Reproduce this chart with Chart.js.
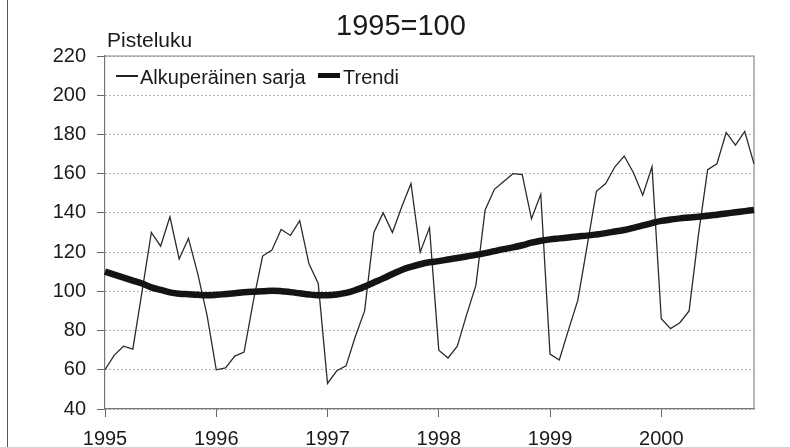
<!DOCTYPE html>
<html>
<head>
<meta charset="utf-8">
<script src="https://cdn.jsdelivr.net/npm/chart.js@4.4.0/dist/chart.umd.min.js"></script>
<style>
  body { margin: 0; background: #fff; }
  #wrap { position: relative; width: 790px; height: 447px; overflow: hidden;
          font-family: "Liberation Sans", Arial, sans-serif; color: #1a1a1a; }
  #c { position: absolute; left: 0; top: 0; }
  #frame { position: absolute; left: 7px; top: 0; height: 447px; border-left: 1.5px solid #555; }
  .txt { position: absolute; line-height: 1; white-space: nowrap; }
  #title { left: 336px; top: 11px; font-size: 29px; }
  #ylab { left: 107px; top: 29px; font-size: 21px; }
  .lg { top: 67px; font-size: 20px; }
  .sw { position: absolute; background: #222; }
</style>
</head>
<body>
<div id="wrap">
  <canvas id="c" width="790" height="447"></canvas>
  <div id="frame"></div>
  <div id="title" class="txt">1995=100</div>
  <div id="ylab" class="txt">Pisteluku</div>
  <div class="sw" style="left:116px; top:75px; width:22px; height:1.5px;"></div>
  <div class="txt lg" style="left:140px;">Alkuperäinen sarja</div>
  <div class="sw" style="left:318px; top:73px; width:22px; height:5px; background:#111;"></div>
  <div class="txt lg" style="left:343px;">Trendi</div>
</div>
<script>
// kuukausisarja 1/1995 - 11/2000
const years = ['1995', '1996', '1997', '1998', '1999', '2000'];
const monthCount = 71;

const original = [
  60, 67.5, 72, 70.5, 100, 130, 123, 138, 116.5, 127, 109, 88,
  60, 61, 67, 69, 95, 118, 121, 131.5, 128.5, 136, 114, 104,
  53, 59.5, 62, 77, 90, 130, 140, 130, 143, 155, 120, 132.5,
  70, 66, 72, 88, 103, 141.5, 152, 156, 160, 159.5, 137, 149.5,
  68, 65, 80.5, 95.5, 123, 151, 155, 163.5, 169, 160.5, 149, 163.5,
  86, 81, 84, 90, 128.5, 162, 165, 181, 174.5, 181.5, 165
];

const trend = [
  110, 108.5, 107, 105.5, 104, 102, 100.7, 99.5, 98.8, 98.5, 98.2, 98,
  98.2, 98.6, 99, 99.5, 99.8, 100, 100.3, 100.1, 99.6, 99, 98.4, 98,
  98, 98.4, 99.2, 100.6, 102.4, 104.5, 106.6, 108.8, 110.9, 112.5, 113.8, 114.8,
  115.4, 116.2, 117, 117.8, 118.6, 119.5, 120.5, 121.5, 122.4, 123.5, 124.8, 125.8,
  126.5, 127, 127.5, 128, 128.4, 129, 129.7, 130.5, 131.3, 132.4, 133.6, 134.8,
  135.9, 136.6, 137.2, 137.6, 138, 138.5, 139.1, 139.7, 140.3, 140.9, 141.5
];

const yTicks = [40, 60, 80, 100, 120, 140, 160, 180, 200, 220];

const labels = [];
for (let i = 0; i < monthCount; i++) {
  labels.push(years[Math.floor(i / 12)] + '-' + (i % 12 + 1));
}

const fontFam = '"Liberation Sans", Arial, sans-serif';

// plot area border (top + right), like the excel original
const plotBox = {
  id: 'plotBox',
  beforeDatasetsDraw(chart) {
    const a = chart.chartArea;
    const ctx = chart.ctx;
    ctx.save();
    ctx.strokeStyle = '#8a8a8a';
    ctx.lineWidth = 1.2;
    ctx.beginPath();
    ctx.moveTo(a.left, a.top);
    ctx.lineTo(a.right, a.top);
    ctx.lineTo(a.right, a.bottom);
    ctx.stroke();
    ctx.restore();
  }
};

new Chart(document.getElementById('c'), {
  type: 'line',
  data: {
    labels: labels,
    datasets: [
      {
        label: 'Trendi',
        data: trend,
        borderColor: '#141414',
        borderWidth: 6.5,
        pointRadius: 0,
        tension: 0.4
      },
      {
        label: 'Alkuperäinen sarja',
        data: original,
        borderColor: '#2b2b2b',
        borderWidth: 1.3,
        pointRadius: 0,
        tension: 0
      }
    ]
  },
  options: {
    responsive: false,
    animation: false,
    layout: { padding: { left: 0, right: 36, top: 56, bottom: 0 } },
    plugins: {
      legend: { display: false },
      tooltip: { enabled: false }
    },
    scales: {
      x: {
        offset: false,
        grid: {
          drawOnChartArea: false,
          tickLength: 8,
          color: c => (c.index % 12 === 0 ? '#666' : 'rgba(0,0,0,0)'),
          tickColor: c => (c.index % 12 === 0 ? '#666' : 'rgba(0,0,0,0)')
        },
        border: { color: '#777', width: 1.2 },
        ticks: {
          autoSkip: false,
          maxRotation: 0,
          minRotation: 0,
          padding: 10,
          color: '#1a1a1a',
          font: { family: fontFam, size: 20 },
          callback: (v, i) => (i % 12 === 0 ? years[i / 12] : '')
        },
        afterFit: s => { s.height = 38; }
      },
      y: {
        min: yTicks[0],
        max: yTicks[yTicks.length - 1],
        grid: {
          color: '#9a9a9a',
          lineWidth: 1,
          tickLength: 8,
          tickColor: '#666',
          tickBorderDash: []
        },
        border: { color: '#777', width: 1.2, dash: [1.5, 2.5] },
        ticks: {
          stepSize: 20,
          padding: 11,
          color: '#1a1a1a',
          font: { family: fontFam, size: 20 }
        },
        afterFit: s => { s.width = 105; }
      }
    }
  },
  plugins: [plotBox]
});
</script>
</body>
</html>
